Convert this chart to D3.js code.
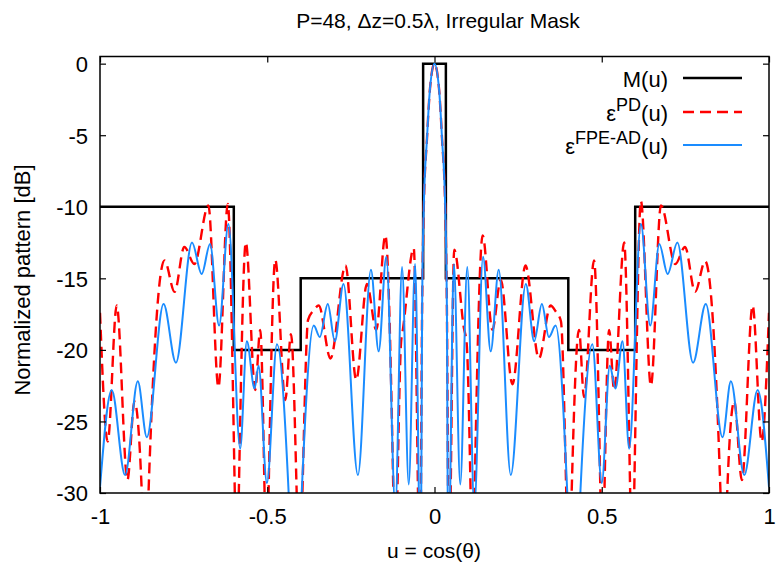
<!DOCTYPE html>
<html><head><meta charset="utf-8">
<script src="https://cdn.jsdelivr.net/npm/d3@7"></script>
<style>
body{margin:0;background:#fff}
text{font-family:"Liberation Sans",Arial,Helvetica,sans-serif;fill:#000}
</style>
</head><body>
<svg id="chart" width="781" height="565"></svg>
<script>
// ---- data ----
const xTicks = [-1, -0.5, 0, 0.5, 1];
const xTickLabels = ["-1", "-0.5", "0", "0.5", "1"];
const yTicks = [0, -5, -10, -15, -20, -25, -30];
const yTickLabels = ["0", "-5", "-10", "-15", "-20", "-25", "-30"];
const titleText = "P=48, \u0394z=0.5\u03bb, Irregular Mask";
const xLabelText = "u = cos(\u03b8)";
const yLabelText = "Normalized pattern [dB]";

// mask M(u): [u, dB]
const maskSeries = [[-1,-10],[-0.6,-10],[-0.6,-20],[-0.4,-20],[-0.4,-15],[-0.034,-15],[-0.034,0],
  [0.034,0],[0.034,-15],[0.4,-15],[0.4,-20],[0.6,-20],[0.6,-10],[1,-10]];

// eps^PD(u): [u, dB]
const pdSeries = [[-1,-17.4],[-0.977,-26.4],[-0.950,-16.9],[-0.918,-29.1],[-0.897,-23.6],[-0.875,-30],[-0.865,-40],[-0.855,-30],
  [-0.807,-13.75],[-0.777,-15.95],[-0.748,-12.8],[-0.718,-14.0],[-0.676,-9.9],[-0.646,-22.6],[-0.618,-9.8],
  [-0.597,-30],[-0.591,-38],[-0.585,-30],[-0.564,-12.5],[-0.536,-22.8],[-0.521,-18.6],[-0.508,-30],[-0.502,-38],[-0.496,-30],
  [-0.476,-13.7],[-0.446,-23.5],[-0.429,-18.9],[-0.412,-30],[-0.404,-38],[-0.395,-30],[-0.378,-17.9],[-0.360,-17.2],[-0.346,-16.9],
  [-0.311,-20.6],[-0.266,-14.1],[-0.234,-22.1],[-0.202,-15.4],[-0.174,-18.6],[-0.147,-12.0],[-0.123,-30],[-0.117,-38],[-0.111,-30],
  [-0.100,-19.5],[-0.094,-18.5],[-0.062,-12.9],[-0.043,-36],[-0.037,-17],[-0.032,-10],[-0.0225,-5.25],[-0.0135,-1.75],[0,0],
  [0.0135,-1.75],[0.0225,-5.25],[0.032,-10],[0.037,-17],[0.043,-36],[0.059,-13.0],[0.088,-18.5],[0.096,-19.5],
  [0.108,-30],[0.114,-38],[0.120,-30],[0.144,-12.0],[0.173,-18.6],[0.198,-15.1],[0.233,-22.4],[0.272,-14.1],[0.312,-20.6],
  [0.347,-16.9],[0.362,-17.3],[0.378,-18.0],[0.394,-30],[0.402,-38],[0.410,-30],[0.432,-18.6],[0.447,-23.3],[0.477,-13.75],
  [0.496,-30],[0.502,-38],[0.508,-30],[0.522,-18.6],[0.537,-22.8],[0.567,-12.5],[0.585,-30],[0.591,-38],[0.597,-30],
  [0.617,-9.6],[0.647,-22.5],[0.677,-9.9],[0.720,-14.0],[0.749,-12.8],[0.779,-15.95],[0.809,-13.8],
  [0.855,-30],[0.865,-40],[0.875,-30],[0.896,-23.6],[0.919,-29.1],[0.951,-16.9],[0.978,-26.4],[1,-17.4]];

// eps^FPE-AD(u): [u, dB]
const fpeSeries = [[-1,-29.6],[-0.965,-22.8],[-0.925,-28.75],[-0.887,-22.2],[-0.860,-26.1],[-0.810,-16.8],[-0.773,-20.9],
  [-0.725,-12.5],[-0.696,-14.7],[-0.671,-12.6],[-0.644,-18.3],[-0.616,-11.2],[-0.581,-26.9],[-0.561,-19.4],[-0.538,-22.7],
  [-0.526,-21.1],[-0.501,-29.3],[-0.471,-19.6],[-0.436,-30],[-0.416,-42],[-0.397,-30],[-0.361,-18.3],[-0.343,-19.1],
  [-0.319,-16.8],[-0.298,-19.4],[-0.272,-15.4],[-0.229,-28.75],[-0.190,-14.4],[-0.167,-20.1],[-0.144,-13.5],[-0.117,-31],
  [-0.097,-14.2],[-0.077,-29.4],[-0.058,-14.0],[-0.041,-36],[-0.037,-17],[-0.032,-10],[-0.0225,-5.25],[-0.0135,-1.75],[0,0],
  [0.0135,-1.75],[0.0225,-5.25],[0.032,-10],[0.037,-17],[0.041,-36],[0.058,-14.0],[0.077,-29.4],[0.098,-14.2],[0.119,-31],
  [0.145,-13.5],[0.168,-20.1],[0.192,-14.4],[0.228,-28.75],[0.273,-15.4],[0.298,-19.4],[0.321,-16.8],[0.342,-19.1],[0.362,-18.3],
  [0.397,-30],[0.416,-42],[0.436,-30],[0.472,-19.6],[0.500,-29.3],[0.524,-21.1],[0.541,-22.7],[0.562,-19.4],[0.582,-26.9],
  [0.617,-11.2],[0.645,-18.3],[0.672,-12.6],[0.697,-14.7],[0.726,-12.5],[0.773,-20.9],[0.811,-16.8],[0.861,-26.1],
  [0.886,-22.2],[0.926,-28.75],[0.966,-22.8],[1,-29.6]];

const legendLabels = [
  {main:"M(u)", sup:"", color:"#000000", dash:null, width:2.5},
  {main:"\u03b5", sup:"PD", color:"#ff0000", dash:"11,6", width:2.4},
  {main:"\u03b5", sup:"FPE-AD", color:"#1a8cff", dash:null, width:2}
];

// ---- layout ----
const L = 100, R = 769, T = 56.5, B = 493;
const svg = d3.select("#chart");
const x = d3.scaleLinear().domain([-1, 1]).range([L, R]);
const y = d3.scaleLinear().domain([-30, 0.5]).range([B, T]);
const FS = 22;

svg.append("defs").append("clipPath").attr("id","clip")
  .append("rect").attr("x", L).attr("y", T).attr("width", R-L).attr("height", B-T);

const line = d3.line().x(d => x(d[0])).y(d => y(d[1]));
const smooth = d3.line().x(d => x(d[0])).y(d => y(d[1])).curve(d3.curveMonotoneX);

const plot = svg.append("g").attr("clip-path","url(#clip)");
plot.append("path").datum(maskSeries).attr("d", line)
  .attr("fill","none").attr("stroke","#000").attr("stroke-width",2.5);
plot.append("path").datum(pdSeries).attr("d", smooth)
  .attr("fill","none").attr("stroke","#ff0000").attr("stroke-width",2.4).attr("stroke-dasharray","11,6");
plot.append("path").datum(fpeSeries).attr("d", smooth)
  .attr("fill","none").attr("stroke","#1a8cff").attr("stroke-width",2);

// axes (inward ticks, mirrored)
function styleAxis(g){ g.select(".domain").remove(); g.selectAll("line").attr("stroke","#000").attr("stroke-width",1.2); }
const gx = svg.append("g").attr("transform",`translate(0,${B})`)
  .call(d3.axisBottom(x).tickValues(xTicks).tickSize(-6).tickFormat((d,i)=>xTickLabels[i]));
styleAxis(gx);
gx.selectAll("text").attr("y", 31).attr("dy", 0).attr("font-size", FS).attr("font-family", null);
const gxt = svg.append("g").attr("transform",`translate(0,${T})`)
  .call(d3.axisTop(x).tickValues(xTicks).tickSize(-6).tickFormat(""));
styleAxis(gxt);
const gy = svg.append("g").attr("transform",`translate(${L},0)`)
  .call(d3.axisLeft(y).tickValues(yTicks).tickSize(-6).tickFormat((d,i)=>yTickLabels[i]));
styleAxis(gy);
gy.selectAll("text").attr("x", -12).attr("dy", "0.36em").attr("font-size", FS).attr("font-family", null);
const gyr = svg.append("g").attr("transform",`translate(${R},0)`)
  .call(d3.axisRight(y).tickValues(yTicks).tickSize(-6).tickFormat(""));
styleAxis(gyr);

// frame
svg.append("rect").attr("x",L).attr("y",T).attr("width",R-L).attr("height",B-T)
  .attr("fill","none").attr("stroke","#000").attr("stroke-width",1.5);

// titles
svg.append("text").attr("x", 438).attr("y", 28).attr("text-anchor","middle").attr("font-size", FS - 1).text(titleText);
svg.append("text").attr("x", 434).attr("y", 558).attr("text-anchor","middle").attr("font-size", FS - 1).text(xLabelText);
svg.append("text").attr("transform","translate(30,280) rotate(-90)").attr("text-anchor","middle")
  .attr("font-size", FS).text(yLabelText);

// legend
const legY = [78, 112, 145];
legendLabels.forEach((d,i) => {
  const t = svg.append("text").attr("x", 668).attr("y", legY[i] + 9).attr("text-anchor","end").attr("font-size", FS);
  if (d.sup) {
    t.append("tspan").text(d.main);
    t.append("tspan").attr("dy", -10).attr("font-size", 18).text(d.sup);
    t.append("tspan").attr("dy", 10).text("(u)");
  } else {
    t.text(d.main);
  }
  const ln = svg.append("line").attr("x1", 683).attr("x2", 742).attr("y1", legY[i]).attr("y2", legY[i])
    .attr("stroke", d.color).attr("stroke-width", d.width);
  if (d.dash) ln.attr("stroke-dasharray", d.dash);
});
</script>
</body></html>
